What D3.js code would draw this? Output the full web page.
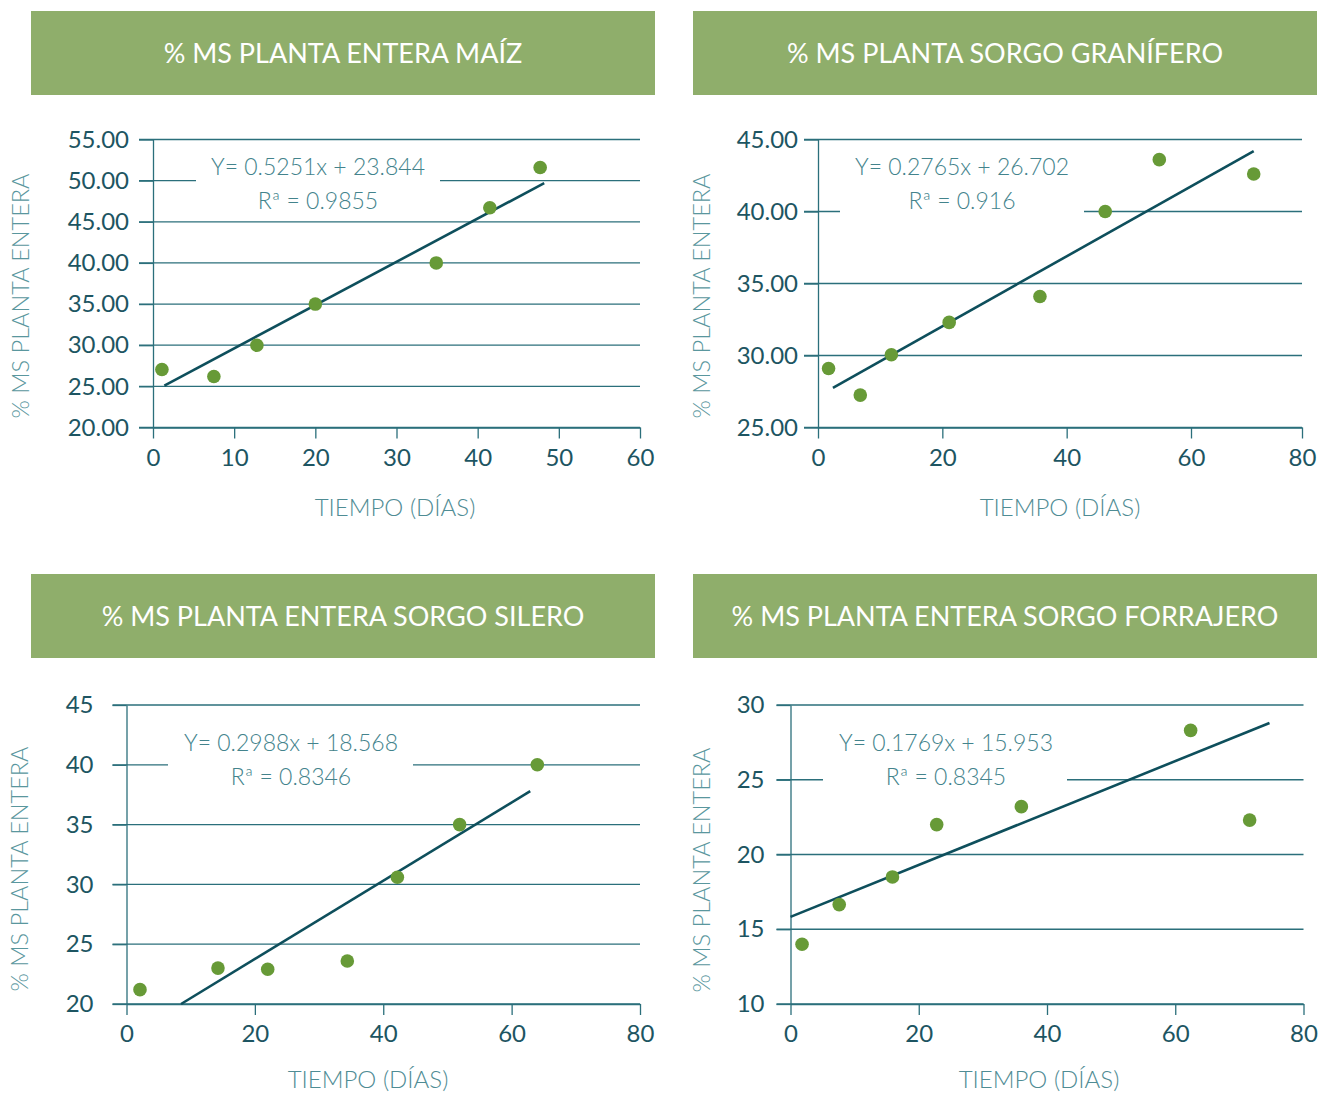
<!DOCTYPE html>
<html>
<head>
<meta charset="utf-8">
<script src="https://d3js.org/d3.v7.min.js"></script>
<style>
    body { margin: 0; background: #ffffff; }
    svg { display: block; }
</style>
</head>
<body>
<svg id="drawing_region"></svg>
<script>
// --- values ---
const maizDias = [1.1, 7.5, 12.8, 20.0, 34.9, 41.5, 47.7];
const maizMS = [27.05, 26.2, 30.0, 35.0, 40.0, 46.7, 51.6];
const maizTrendDias = [1.4, 48.2];
const maizTrendMS = [25.1, 49.7];
const maizYTicks = [20, 25, 30, 35, 40, 45, 50, 55];
const maizXTicks = [0, 10, 20, 30, 40, 50, 60];

const graniferoDias = [1.7, 6.8, 11.8, 21.1, 35.7, 46.2, 54.9, 71.3];
const graniferoMS = [29.1, 27.25, 30.05, 32.3, 34.1, 40.0, 43.6, 42.6];
const graniferoTrendDias = [2.4, 71.3];
const graniferoTrendMS = [27.75, 44.2];
const graniferoYTicks = [25, 30, 35, 40, 45];
const graniferoXTicks = [0, 20, 40, 60, 80];

const sileroDias = [2.1, 14.25, 22.0, 34.4, 42.2, 51.9, 64.0];
const sileroMS = [21.2, 23.0, 22.9, 23.6, 30.6, 35.0, 40.0];
const sileroTrendDias = [8.5, 62.9];
const sileroTrendMS = [20.0, 37.8];
const sileroYTicks = [20, 25, 30, 35, 40, 45];
const sileroXTicks = [0, 20, 40, 60, 80];

const forrajeroDias = [1.8, 7.6, 15.9, 22.8, 36.0, 62.4, 71.6];
const forrajeroMS = [14.0, 16.65, 18.5, 22.0, 23.2, 28.3, 22.3];
const forrajeroTrendDias = [0, 74.7];
const forrajeroTrendMS = [15.83, 28.8];
const forrajeroYTicks = [10, 15, 20, 25, 30];
const forrajeroXTicks = [0, 20, 40, 60, 80];

const titles = [
    "% MS PLANTA ENTERA MAÍZ",
    "% MS PLANTA SORGO GRANÍFERO",
    "% MS PLANTA ENTERA SORGO SILERO",
    "% MS PLANTA ENTERA SORGO FORRAJERO"
];
const equations = [
    ["Y= 0.5251x + 23.844", "Rª = 0.9855"],
    ["Y= 0.2765x + 26.702", "Rª = 0.916"],
    ["Y= 0.2988x + 18.568", "Rª = 0.8346"],
    ["Y= 0.1769x + 15.953", "Rª = 0.8345"]
];
const xTitle = "TIEMPO (DÍAS)";
const yTitle = "% MS PLANTA ENTERA";

const svg = d3.select('#drawing_region')
    .attr('width', 1320)
    .attr('height', 1094);

class RegressionPanel {

    constructor( config, data ) {
        this.config = config;
        this.data = data;
        this.init();
    }

    init() {
        let self = this;
        let c = self.config;

        self.g = svg.append('g');

        // green header
        self.g.append('rect')
            .attr('x', c.banner.x)
            .attr('y', c.banner.y)
            .attr('width', c.banner.w)
            .attr('height', c.banner.h)
            .attr('fill', '#8fae6b');

        self.g.append('text')
            .attr('x', c.banner.x + c.banner.w / 2)
            .attr('y', c.banner.y + c.banner.h / 2)
            .attr('dy', '0.36em')
            .attr('text-anchor', 'middle')
            .attr('fill', '#ffffff')
            .attr('font-family', 'Lato, sans-serif')
            .attr('font-size', '27px')
            .text(c.title);

        self.xscale = d3.scaleLinear()
            .domain(c.xdomain)
            .range(c.xrange);

        self.yscale = d3.scaleLinear()
            .domain(c.ydomain)
            .range([c.bottom, c.top]);

        self.grid_group = self.g.append('g');
        self.xaxis_group = self.g.append('g')
            .attr('transform', `translate(0, ${c.bottom})`);
        self.yaxis_group = self.g.append('g')
            .attr('transform', `translate(${c.xrange[0]}, 0)`);
        self.label_group = self.g.append('g');
        self.mark_group = self.g.append('g');
    }

    update() {
        let self = this;
        self.render();
    }

    render() {
        let self = this;
        let c = self.config;
        let right = c.xrange[c.xrange.length - 1];
        let left = c.xrange[0];

        self.grid_group.selectAll('line')
            .data(c.yticks)
            .join('line')
            .attr('x1', left - 14)
            .attr('x2', right)
            .attr('y1', d => self.yscale(d))
            .attr('y2', d => self.yscale(d))
            .attr('stroke', '#2b6f7b')
            .attr('stroke-width', 1.3);

        self.xaxis = d3.axisBottom(self.xscale)
            .tickValues(c.xticks)
            .tickSizeInner(11)
            .tickSizeOuter(0)
            .tickPadding(10)
            .tickFormat(d3.format('d'));

        self.yaxis = d3.axisLeft(self.yscale)
            .tickValues(c.yticks)
            .tickSizeInner(14)
            .tickSizeOuter(0)
            .tickPadding(c.ypad)
            .tickFormat(d3.format(c.yformat));

        self.xaxis_group.call(self.xaxis);
        self.yaxis_group.call(self.yaxis);

        [self.xaxis_group, self.yaxis_group].forEach(ax => {
            ax.selectAll('path, line')
                .attr('stroke', '#2b6f7b')
                .attr('stroke-width', 1.3);
            ax.selectAll('text')
                .attr('fill', '#1d5562')
                .attr('font-family', 'Lato, sans-serif')
                .attr('font-size', '24px');
        });

        // white box behind the equation hides the gridline
        self.label_group.append('rect')
            .attr('x', c.eqBox[0])
            .attr('y', c.eqBox[1])
            .attr('width', c.eqBox[2])
            .attr('height', c.eqBox[3])
            .attr('fill', '#ffffff');

        self.label_group.selectAll('.eq')
            .data(c.equation)
            .join('text')
            .attr('class', 'eq')
            .attr('x', c.eqX)
            .attr('y', (d, i) => c.eqY + i * 34)
            .attr('dy', '0.36em')
            .attr('text-anchor', 'middle')
            .attr('fill', '#43838c')
            .attr('font-family', 'Lato, sans-serif')
            .attr('font-weight', 300)
            .attr('font-size', '23px')
            .text(d => d);

        self.label_group.append('text')
            .attr('x', c.xTitlePos[0])
            .attr('y', c.xTitlePos[1])
            .attr('dy', '0.36em')
            .attr('text-anchor', 'middle')
            .attr('fill', '#4f8c94')
            .attr('font-family', 'Lato, sans-serif')
            .attr('font-weight', 300)
            .attr('font-size', '24px')
            .text(xTitle);

        self.label_group.append('text')
            .attr('transform', `translate(${c.yTitlePos[0]}, ${c.yTitlePos[1]}) rotate(-90)`)
            .attr('dy', '0.36em')
            .attr('text-anchor', 'middle')
            .attr('fill', '#5a979e')
            .attr('font-family', 'Lato, sans-serif')
            .attr('font-weight', 300)
            .attr('font-size', '23.5px')
            .text(yTitle);

        const line = d3.line()
            .x(d => self.xscale(d[0]))
            .y(d => self.yscale(d[1]));

        self.mark_group.append('path')
            .datum(d3.zip(self.data.trendX, self.data.trendY))
            .attr('d', line)
            .attr('fill', 'none')
            .attr('stroke', '#0e4f5c')
            .attr('stroke-width', 2.6);

        self.mark_group.selectAll('circle')
            .data(d3.zip(self.data.x, self.data.y))
            .join('circle')
            .attr('cx', d => self.xscale(d[0]))
            .attr('cy', d => self.yscale(d[1]))
            .attr('r', 6.8)
            .attr('fill', '#679a37');
    }
}

const panels = [
    {
        config: {
            title: titles[0], equation: equations[0],
            banner: {x: 31, y: 11, w: 624, h: 84},
            xdomain: [0, 60], xrange: [153, 640],
            ydomain: [20, 55], top: 139.5, bottom: 427.5,
            xticks: maizXTicks, yticks: maizYTicks, yformat: '.2f', ypad: 10,
            eqX: 318, eqY: 167, eqBox: [196, 150, 244, 66],
            xTitlePos: [395, 507], yTitlePos: [21, 296]
        },
        data: {x: maizDias, y: maizMS, trendX: maizTrendDias, trendY: maizTrendMS}
    },
    {
        config: {
            title: titles[1], equation: equations[1],
            banner: {x: 693, y: 11, w: 624, h: 84},
            // the source axis is squeezed after 60 days
            xdomain: [0, 60, 80], xrange: [818, 1191, 1302],
            ydomain: [25, 45], top: 139.5, bottom: 427.5,
            xticks: graniferoXTicks, yticks: graniferoYTicks, yformat: '.2f', ypad: 6,
            eqX: 962, eqY: 167, eqBox: [840, 150, 244, 66],
            xTitlePos: [1060, 507], yTitlePos: [702, 296]
        },
        data: {x: graniferoDias, y: graniferoMS, trendX: graniferoTrendDias, trendY: graniferoTrendMS}
    },
    {
        config: {
            title: titles[2], equation: equations[2],
            banner: {x: 31, y: 574, w: 624, h: 84},
            xdomain: [0, 80], xrange: [126.5, 640],
            ydomain: [20, 45], top: 705, bottom: 1004,
            xticks: sileroXTicks, yticks: sileroYTicks, yformat: 'd', ypad: 19,
            eqX: 291, eqY: 743, eqBox: [168, 726, 245, 66],
            xTitlePos: [368, 1079], yTitlePos: [20, 869]
        },
        data: {x: sileroDias, y: sileroMS, trendX: sileroTrendDias, trendY: sileroTrendMS}
    },
    {
        config: {
            title: titles[3], equation: equations[3],
            banner: {x: 693, y: 574, w: 624, h: 84},
            xdomain: [0, 80], xrange: [790.5, 1303.5],
            ydomain: [10, 30], top: 705, bottom: 1004,
            xticks: forrajeroXTicks, yticks: forrajeroYTicks, yformat: 'd', ypad: 12,
            eqX: 946, eqY: 743, eqBox: [823, 726, 244, 66],
            xTitlePos: [1039, 1079], yTitlePos: [702, 870]
        },
        data: {x: forrajeroDias, y: forrajeroMS, trendX: forrajeroTrendDias, trendY: forrajeroTrendMS}
    }
];

panels.forEach(p => {
    const panel = new RegressionPanel(p.config, p.data);
    panel.update();
});
</script>
</body>
</html>
